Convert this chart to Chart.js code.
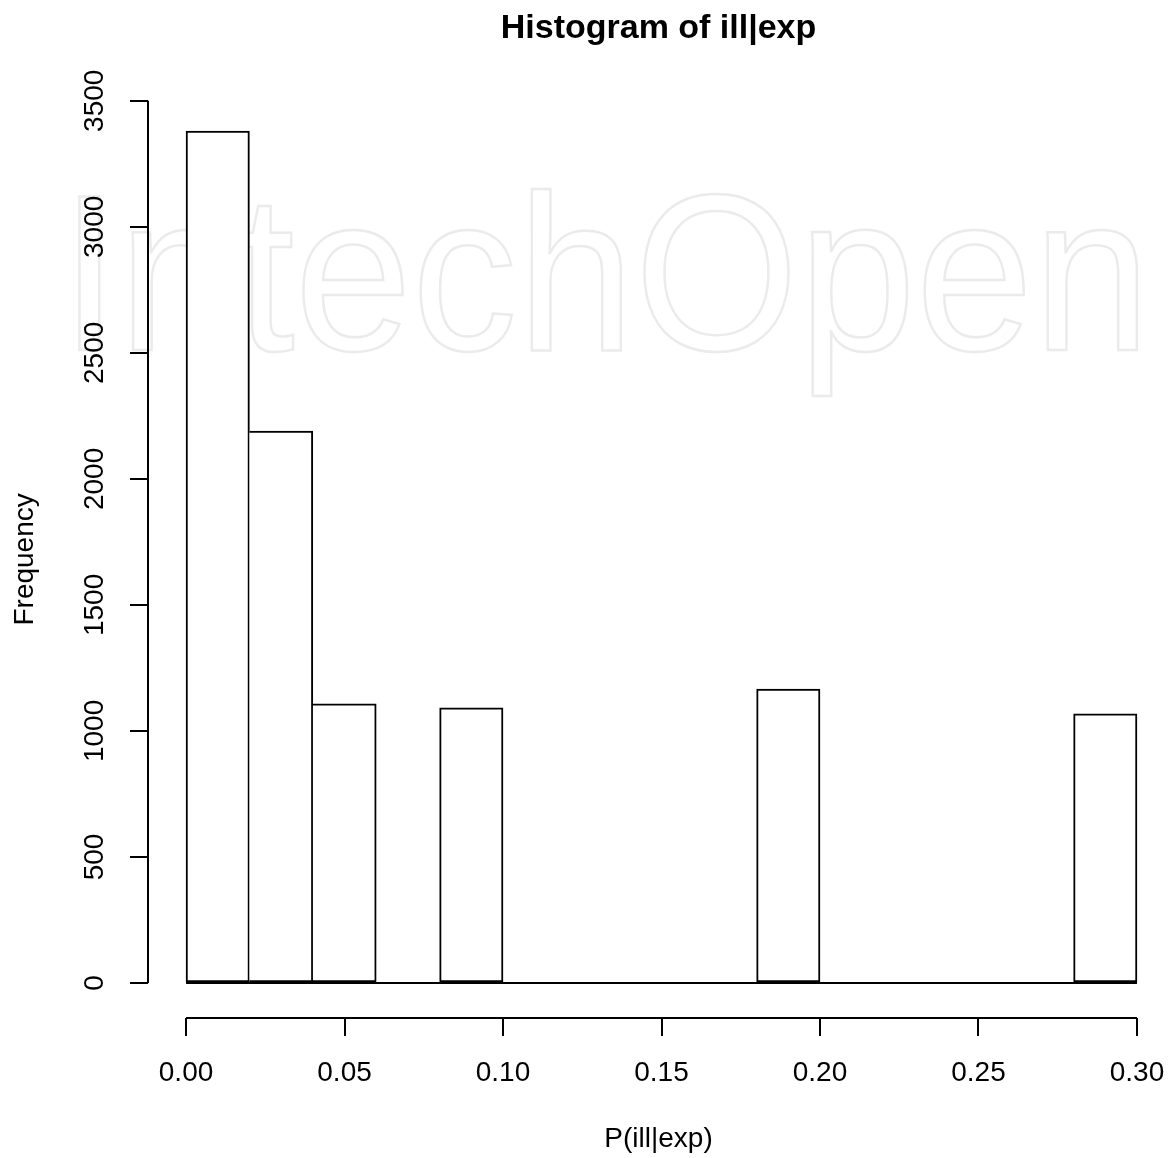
<!DOCTYPE html>
<html>
<head>
<meta charset="utf-8">
<title>Histogram of ill|exp</title>
<script src="https://cdn.jsdelivr.net/npm/chart.js@4.4.1/dist/chart.umd.min.js"></script>
<style>
  html, body { margin: 0; padding: 0; background: #fff; }
</style>
</head>
<body>
<canvas id="histChart" width="1169" height="1158"></canvas>
<script>
// histogram bins (edges) and counts per bin
const binEdges = [0.00, 0.02, 0.04, 0.06, 0.08, 0.10, 0.12, 0.14, 0.16, 0.18, 0.20, 0.22, 0.24, 0.26, 0.28, 0.30];
const counts = [3380, 2190, 1108, 0, 1092, 0, 0, 0, 0, 1166, 0, 0, 0, 0, 1068];

const xTicks = [0.00, 0.05, 0.10, 0.15, 0.20, 0.25, 0.30];
const yTicks = [0, 500, 1000, 1500, 2000, 2500, 3000, 3500];

const FONT = '"Liberation Sans", Arial, Helvetica, sans-serif';

const barData = counts.map((c, i) => ({ x: (binEdges[i] + binEdges[i + 1]) / 2, y: c }));
const baseData = [{ x: binEdges[0], y: 0 }, { x: binEdges[binEdges.length - 1], y: 0 }];

// faint publisher watermark behind the plot
const watermark = {
    id: 'watermark',
    beforeDraw(chart) {
        const ctx = chart.ctx;
        ctx.save();
        ctx.translate(60, 350);
        ctx.scale(0.95, 1);
        ctx.font = '222px ' + FONT;
        ctx.strokeStyle = '#ebebeb';
        ctx.lineWidth = 2.5;
        ctx.textBaseline = 'alphabetic';
        ctx.strokeText('IntechOpen', 0, 0);
        ctx.restore();
    }
};

// R style axis lines: only span the tick range
const rAxes = {
    id: 'rAxes',
    afterDraw(chart) {
        const { ctx, chartArea, scales } = chart;
        ctx.save();
        ctx.strokeStyle = '#000';
        ctx.lineWidth = 2;
        ctx.beginPath();
        const yx = Math.round(chartArea.left);
        ctx.moveTo(yx, scales.y.getPixelForValue(yTicks[0]));
        ctx.lineTo(yx, scales.y.getPixelForValue(yTicks[yTicks.length - 1]));
        const xy = Math.round(chartArea.bottom);
        ctx.moveTo(scales.x.getPixelForValue(xTicks[0]), xy);
        ctx.lineTo(scales.x.getPixelForValue(xTicks[xTicks.length - 1]), xy);
        ctx.stroke();
        ctx.restore();
    }
};

new Chart(document.getElementById('histChart').getContext('2d'), {
    type: 'bar',
    data: {
        datasets: [{
            type: 'bar',
            data: barData,
            backgroundColor: '#fff',
            borderColor: '#000',
            borderWidth: 2,
            borderSkipped: (c) => (c.dataIndex > 0 && counts[c.dataIndex - 1] > 0 ? 'left' : false),
            barPercentage: 1,
            categoryPercentage: 1,
            order: 2
        }, {
            type: 'line',
            data: baseData,
            borderColor: '#000',
            borderWidth: 2,
            pointRadius: 0,
            fill: false,
            order: 1
        }]
    },
    options: {
        responsive: false,
        animation: false,
        devicePixelRatio: 1,
        layout: { padding: 0 },
        plugins: {
            legend: { display: false },
            tooltip: { enabled: false },
            title: {
                display: true,
                text: 'Histogram of ill|exp',
                fullSize: false,
                color: '#000',
                font: { family: FONT, size: 34, weight: 'bold' },
                padding: { top: 8, bottom: 52 }
            }
        },
        scales: {
            x: {
                type: 'linear',
                offset: false,
                min: -0.012,
                max: 0.3101,
                afterBuildTicks: (s) => { s.ticks = xTicks.map(v => ({ value: v })); },
                afterFit: (s) => { s.height = 140; s.paddingLeft = 0; s.paddingRight = 0; },
                grid: { offset: false, drawOnChartArea: false, drawTicks: true, tickLength: 18, color: '#000', lineWidth: 2 },
                border: { display: false },
                ticks: {
                    color: '#000',
                    font: { family: FONT, size: 28 },
                    padding: 20,
                    maxRotation: 0,
                    autoSkip: false,
                    callback: (v) => v.toFixed(2)
                },
                title: {
                    display: true,
                    text: 'P(ill|exp)',
                    color: '#000',
                    font: { family: FONT, size: 28 },
                    padding: { top: 0, bottom: 2 }
                }
            },
            y: {
                min: -138.9,
                max: 3500,
                afterBuildTicks: (s) => { s.ticks = yTicks.map(v => ({ value: v })); },
                afterFit: (s) => { s.width = 148; s.paddingTop = 0; s.paddingBottom = 0; },
                grid: { offset: false, drawOnChartArea: false, drawTicks: true, tickLength: 18, color: '#000', lineWidth: 2 },
                border: { display: false },
                ticks: {
                    color: '#000',
                    font: { family: FONT, size: 28 },
                    padding: 4,
                    minRotation: 90,
                    maxRotation: 90,
                    crossAlign: 'center',
                    autoSkip: false,
                    callback: (v) => String(v)
                },
                title: {
                    display: true,
                    text: 'Frequency',
                    color: '#000',
                    font: { family: FONT, size: 28 },
                    padding: { top: 8, bottom: 0 }
                }
            }
        }
    },
    plugins: [watermark, rAxes]
});
</script>
</body>
</html>
